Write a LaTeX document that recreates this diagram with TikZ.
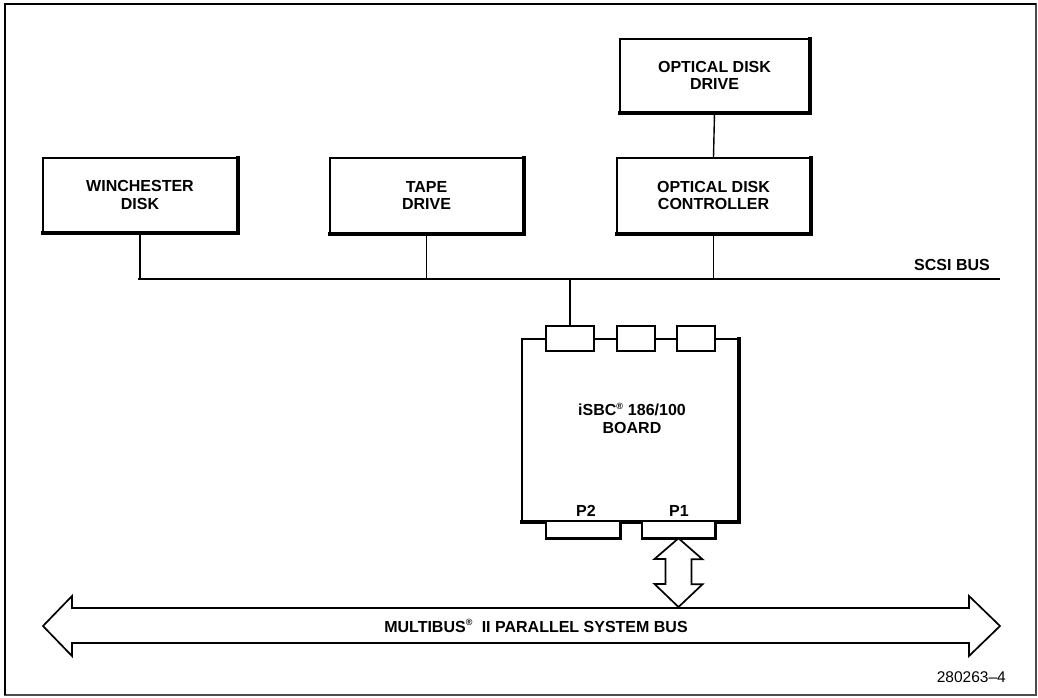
\documentclass[tikz,border=0pt]{standalone}
\usepackage{fontspec}
\setmainfont{Liberation Sans}
\begin{document}
\begin{tikzpicture}[x=1pt,y=-1pt,
  lbl/.style={font=\bfseries\fontsize{16}{17.5}\selectfont,align=center,inner sep=0pt},
  box/.style={lbl,draw,line width=1.6pt,fill=white},
  conn/.style={draw,line width=1.6pt,fill=white,inner sep=0pt},
  wire/.style={line width=1.4pt},
  shade/.style={line width=3.4pt,line cap=rect},
  bigarrow/.style={draw,line width=1.7pt,line join=miter,fill=white}]
\useasboundingbox (0,0) rectangle (1038,697);
% frame
\draw[line width=1.2pt,black!70] (5,4) rectangle (1036,695);
\draw[line width=2pt] (5,695) -- (5,4) -- (1036,4);

% device boxes
\node[box,minimum width=189pt,minimum height=73pt] (odd) at (714.5,75.5) {OPTICAL DISK\\DRIVE};
\node[box,minimum width=194pt,minimum height=74pt] (win) at (140,195) {WINCHESTER\\DISK};
\node[box,minimum width=193pt,minimum height=75pt] (tape) at (426.5,195.5) {TAPE\\DRIVE};
\node[box,minimum width=193pt,minimum height=75pt] (odc) at (713.5,195.5) {OPTICAL DISK\\CONTROLLER};
\foreach \n in {odd,win,tape,odc}
  \draw[shade] (\n.north east) -- (\n.south east) -- (\n.south west);

% SCSI bus
\coordinate (scsiL) at (138,279);
\coordinate (scsiR) at (1000,279);
\draw[wire] (scsiL) -- (scsiR);
\node[lbl,anchor=south east] (scsilbl) at (990,271) {SCSI BUS};
\draw[wire] (odd.south) -- (odc.north);
\draw[wire] (win.south) -- (win.south |- scsiL);
\draw[wire] (tape.south) -- (tape.south |- scsiL);
\draw[wire] (odc.south) -- (odc.south |- scsiL);

% board
\node[draw,line width=1.6pt,minimum width=216pt,minimum height=182pt,inner sep=0pt] (board) at (630,430) {};
\draw[shade] (board.north east) -- (board.south east) -- (board.south west);
\node[lbl] (boardlbl) at (632,418.5) {iSBC\textsuperscript{\fontsize{9}{9}\selectfont ®} 186/100\\BOARD};
\node[conn,minimum width=48pt,minimum height=25pt] (c1) at (570,338.5) {};
\node[conn,minimum width=38pt,minimum height=25pt] (c2) at (636,338.5) {};
\node[conn,minimum width=38pt,minimum height=25pt] (c3) at (696,338.5) {};
\draw[wire] (c1.north) -- (c1.north |- scsiL);

\node[conn,minimum width=74pt,minimum height=16pt] (p2) at (583,529.5) {};
\node[conn,minimum width=73pt,minimum height=16pt] (p1) at (678.5,529.5) {};
\foreach \n in {p1,p2}
  \draw[line width=3pt] (\n.south west) -- (\n.south east) -- (\n.north east);
\node[lbl] (p2lbl) at (586,511) {P2};
\node[lbl] (p1lbl) at (679,511) {P1};

% multibus double arrow
\draw[bigarrow] (43,626) -- (72,596) -- (72,608) -- (969,608) -- (969,596) -- (1000,626)
  -- (969,656) -- (969,643) -- (72,643) -- (72,656) -- cycle;
\node[lbl] (buslbl) at (536,626) {MULTIBUS\textsuperscript{\fontsize{9}{9}\selectfont ®}\ \ II PARALLEL SYSTEM BUS};
\coordinate (bustop) at (678.5,607);

% vertical double arrow P1 <-> bus
\draw[bigarrow] (p1.south) -- ++(24,21) -- ++(-11,0) -- ++(0,25) -- ++(11,0)
  -- (bustop) -- ++(-24,-23) -- ++(11,0) -- ++(0,-25) -- ++(-11,0) -- cycle;

% figure number
\node[font=\fontsize{15.5}{17}\selectfont,anchor=east,inner sep=0pt] (fignum) at (1006,677) {280263--4};
\end{tikzpicture}
\end{document}
